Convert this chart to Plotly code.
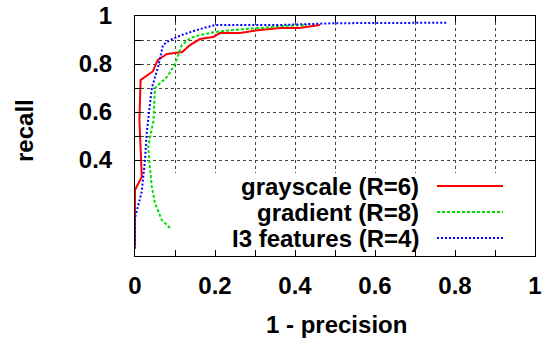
import plotly.graph_objects as go

# ---- data ----
gray_x = [0.0, 0.0, 0.017, 0.011, 0.014, 0.045, 0.057, 0.08, 0.118, 0.1375, 0.1625, 0.195, 0.2125, 0.2625, 0.3125, 0.3625, 0.41, 0.4625]
gray_y = [0.04, 0.275, 0.33, 0.567, 0.733, 0.77, 0.817, 0.842, 0.85, 0.879, 0.904, 0.9125, 0.929, 0.929, 0.942, 0.95, 0.95, 0.9625]

grad_x = [0.0875, 0.067, 0.05, 0.042, 0.036, 0.033, 0.042, 0.046, 0.05, 0.08, 0.1, 0.117, 0.1375, 0.1625, 0.2, 0.245, 0.3125, 0.3625, 0.43]
grad_y = [0.117, 0.15, 0.22, 0.29, 0.39, 0.455, 0.53, 0.56, 0.70, 0.746, 0.80, 0.879, 0.908, 0.921, 0.933, 0.942, 0.95, 0.958, 0.9625]

i3_x = [0.0, 0.0, 0.008, 0.017, 0.025, 0.029, 0.033, 0.042, 0.058, 0.07, 0.0875, 0.117, 0.155, 0.2, 0.3625, 0.5, 0.78]
i3_y = [0.03, 0.16, 0.21, 0.27, 0.4, 0.51, 0.567, 0.70, 0.79, 0.879, 0.9, 0.921, 0.942, 0.9625, 0.9625, 0.97, 0.972]

series_names = ["grayscale (R=6)", "gradient (R=8)", "I3 features (R=4)"]
series_colors = ["#ff0000", "#00e000", "#0000ff"]
series_dash = ["solid", "3px,2px", "2px,2px"]

x_ticks = [0.0, 0.1, 0.2, 0.3, 0.4, 0.5, 0.6, 0.7, 0.8, 0.9, 1.0]
x_labels = ["0", "", "0.2", "", "0.4", "", "0.6", "", "0.8", "", "1"]
y_ticks = [0.4, 0.5, 0.6, 0.7, 0.8, 0.9, 1.0]
y_labels = ["0.4", "", "0.6", "", "0.8", "", "1"]

FONT = "Liberation Sans, Arial, sans-serif"
FS = 24

fig = go.Figure()
for xs, ys, name, col, dash in zip([gray_x, grad_x, i3_x], [gray_y, grad_y, i3_y],
                                   series_names, series_colors, series_dash):
    fig.add_trace(go.Scatter(x=xs, y=ys, mode="lines", name=name,
                             line=dict(color=col, width=2, dash=dash),
                             showlegend=False, hoverinfo="skip"))

# opaque key box (covers the grid like gnuplot's key)
fig.add_shape(type="rect", xref="x", yref="y", x0=0.093, x1=1.0, y0=0.0, y1=0.346,
              fillcolor="white", line=dict(width=0), layer="between")

W, H = 545, 342
ml, mr, mt, mb = 135, 10, 16, 86
pw, ph = W - ml - mr, H - mt - mb
def px2paper(px, py):
    return (px - ml) / pw, 1 - (py - mt) / ph

row_y = [186, 212, 238]
for i, (name, col, dash) in enumerate(zip(series_names, series_colors, series_dash)):
    tx, ty = px2paper(421, row_y[i])
    fig.add_annotation(x=tx, y=ty, xref="paper", yref="paper", text="<b>%s</b>" % name,
                       showarrow=False, xanchor="right", yanchor="middle",
                       font=dict(family=FONT, size=FS, color="black"))
    lx0, ly = px2paper(437, row_y[i])
    lx1, _ = px2paper(503, row_y[i])
    fig.add_shape(type="line", xref="paper", yref="paper", x0=lx0, x1=lx1, y0=ly, y1=ly,
                  line=dict(color=col, width=2, dash=dash))

# axis titles
ax, ay = px2paper(24, 130)
fig.add_annotation(x=ax, y=ay, xref="paper", yref="paper", text="<b>recall</b>",
                   textangle=-90, showarrow=False, xanchor="center", yanchor="middle",
                   font=dict(family=FONT, size=FS, color="black"))
bx, by = px2paper(336, 324)
fig.add_annotation(x=bx, y=by, xref="paper", yref="paper", text="<b>1 - precision</b>",
                   showarrow=False, xanchor="center", yanchor="middle",
                   font=dict(family=FONT, size=FS, color="black"))

axis_common = dict(showline=True, linecolor="black", linewidth=1, mirror="ticks",
                   ticks="inside", ticklen=6, tickcolor="black",
                   showgrid=True, gridcolor="#444444", gridwidth=1, griddash="dot",
                   zeroline=False, automargin=False, ticklabeloverflow="allow",
                   tickfont=dict(family=FONT, size=FS, color="black"))
fig.update_xaxes(range=[0, 1], tickmode="array", tickvals=x_ticks,
                 ticktext=["<b>%s</b>" % t if t else "" for t in x_labels],
                 ticklabelstandoff=8, **axis_common)
fig.update_yaxes(range=[0, 1], tickmode="array", tickvals=y_ticks,
                 ticktext=["<b>%s</b>" % t if t else "" for t in y_labels],
                 ticklabelstandoff=17, **axis_common)

fig.update_layout(width=W, height=H, margin=dict(l=ml, r=mr, t=mt, b=mb, autoexpand=False),
                  plot_bgcolor="white", paper_bgcolor="white", showlegend=False,
                  hovermode=False)

# remove the browser's default 8px body margin so the figure fills the window exactly
fig.write_html("out.html", config={"displayModeBar": False, "staticPlot": True},
               post_script="document.body.style.margin='0';document.body.style.overflow='hidden';")
